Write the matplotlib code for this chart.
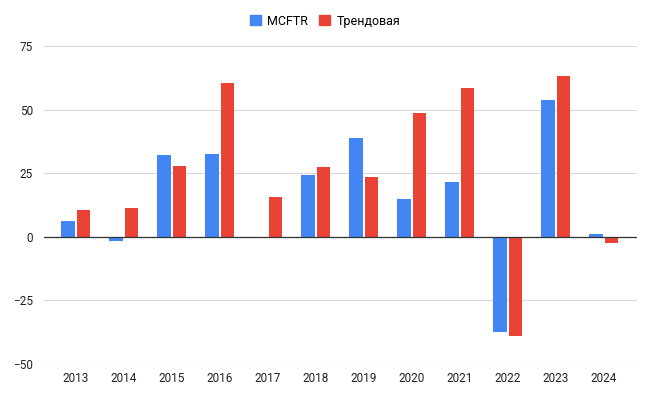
import matplotlib
matplotlib.use("Agg")
import matplotlib.pyplot as plt
import numpy as np
from matplotlib.patches import Patch

years = ["2013", "2014", "2015", "2016", "2017", "2018",
         "2019", "2020", "2021", "2022", "2023", "2024"]
mcftr = [6.1, -1.8, 32.0, 32.5, 0.0, 24.4, 38.9, 14.9, 21.4, -37.3, 53.7, 1.3]
trend = [10.4, 11.5, 27.9, 60.3, 15.8, 27.5, 23.6, 48.8, 58.7, -39.1, 63.3, -2.3]

BLUE = "#4285F4"
RED = "#EA4335"

plt.rcParams["font.family"] = ["Roboto", "DejaVu Sans"]

fig = plt.figure(figsize=(6.5, 3.97), dpi=100)
ax = fig.add_axes([0.068, 0.083, 0.912, 0.801])

x = np.arange(len(years))
w = 0.28
ax.bar(x - 0.163, mcftr, width=w, color=BLUE, zorder=3)
ax.bar(x + 0.163, trend, width=w, color=RED, zorder=3)

ax.set_ylim(-50, 75)
ax.set_xlim(-0.66, 11.69)
ax.set_yticks([-50, -25, 0, 25, 50, 75])
ax.set_xticks(x)
ax.set_xticklabels(years)
ax.yaxis.grid(True, color="#d9d9d9", linewidth=0.8, zorder=0)
ax.axhline(0, color="#333333", linewidth=0.9, zorder=4)
ax.tick_params(axis="both", length=0, labelsize=8.5, colors="#222222")
ax.tick_params(axis="y", pad=8)
ax.tick_params(axis="x", pad=6)
for s in ax.spines.values():
    s.set_visible(False)

handles = [Patch(color=BLUE, label="MCFTR"), Patch(color=RED, label="Трендовая")]
fig.legend(handles=handles, loc="center", bbox_to_anchor=(0.5, 0.947), ncol=2,
           frameon=False, fontsize=9, handlelength=0.9, handleheight=0.9,
           columnspacing=0.9, handletextpad=0.5)

fig.savefig("out.png", dpi=100)
plt.close(fig)
